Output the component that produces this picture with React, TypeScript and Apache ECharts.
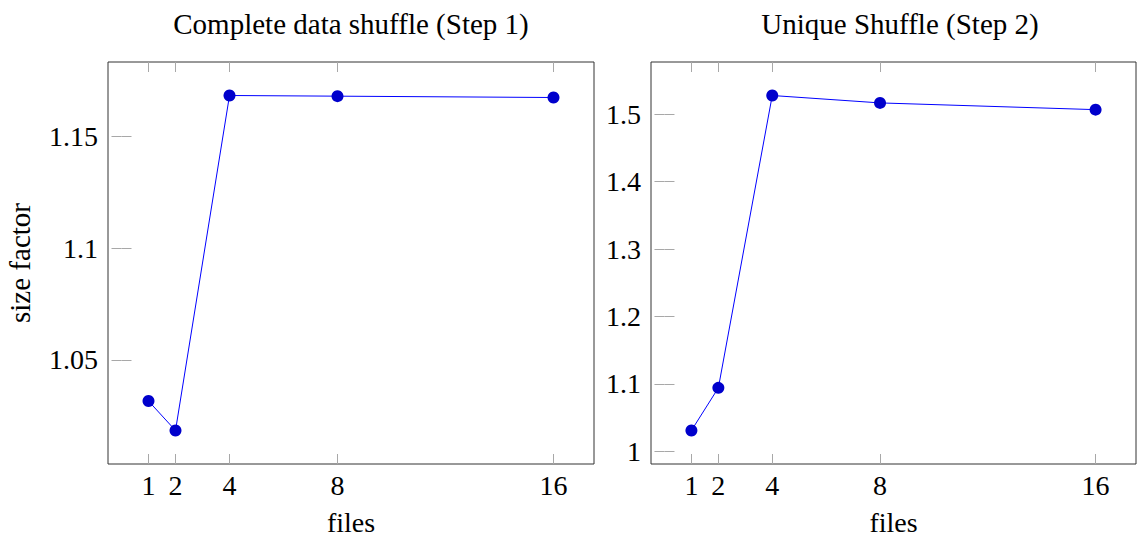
import React, { useEffect, useRef } from "react";
import * as echarts from "echarts";

const files = [1, 2, 4, 8, 16];
const step1SizeFactor = [1.0315, 1.0183, 1.1684, 1.1681, 1.1675];
const step2SizeFactor = [1.0307, 1.094, 1.528, 1.517, 1.507];
const xTicks = [1, 2, 4, 8, 16];
const step1YTicks = [1.05, 1.1, 1.15];
const step2YTicks = [1, 1.1, 1.2, 1.3, 1.4, 1.5];
const titles = ["Complete data shuffle (Step 1)", "Unique Shuffle (Step 2)"];

const FONT = "Liberation Serif";
const TICK_COLOR = "#a8a8a8";

function enlarge(vals: number[]) {
  const mn = Math.min(...vals);
  const mx = Math.max(...vals);
  const d = (mx - mn) * 0.1;
  return [mn - d, mx + d];
}

function fmt(v: number) {
  return String(parseFloat(v.toFixed(4)));
}

export default function App() {
  const ref = useRef<HTMLDivElement>(null);
  useEffect(() => {
    document.body.style.margin = "0";
    const chart = echarts.init(ref.current!, undefined, { renderer: "svg" });
    const [xMin, xMax] = enlarge(files);
    const yLims = [enlarge(step1SizeFactor), enlarge(step2SizeFactor)];
    const yTicks = [step1YTicks, step2YTicks];
    const seriesData = [step1SizeFactor, step2SizeFactor];
    const grids = [
      { left: 108, top: 62, width: 486, height: 404 },
      { left: 651, top: 62, width: 485, height: 404 },
    ];
    const xAxis: any[] = [];
    const yAxis: any[] = [];
    const series: any[] = [];
    grids.forEach((g, i) => {
      xAxis.push({
        type: "value",
        gridIndex: i,
        position: "bottom",
        min: xMin,
        max: xMax,
        name: "files",
        nameLocation: "middle",
        nameGap: 44,
        nameTextStyle: { fontFamily: FONT, fontSize: 28, color: "#000" },
        axisLine: { show: false },
        splitLine: { show: false },
        axisTick: {
          show: true,
          inside: true,
          length: 10,
          customValues: xTicks,
          lineStyle: { color: TICK_COLOR, width: 1 },
        },
        axisLabel: {
          show: true,
          customValues: xTicks,
          fontFamily: FONT,
          fontSize: 28,
          color: "#000",
          margin: 7,
          formatter: (v: number) => fmt(v),
        },
      });
      xAxis.push({
        type: "value",
        gridIndex: i,
        position: "top",
        min: xMin,
        max: xMax,
        axisLine: { show: false },
        splitLine: { show: false },
        axisTick: {
          show: true,
          inside: true,
          length: 10,
          customValues: xTicks,
          lineStyle: { color: TICK_COLOR, width: 1 },
        },
        axisLabel: { show: false },
      });
      yAxis.push({
        type: "value",
        gridIndex: i,
        position: "left",
        min: yLims[i][0],
        max: yLims[i][1],
        name: i === 0 ? "size factor" : "",
        nameLocation: "middle",
        nameGap: 74,
        nameTextStyle: { fontFamily: FONT, fontSize: 29, color: "#000" },
        axisLine: { show: false },
        splitLine: { show: false },
        axisTick: {
          show: true,
          inside: true,
          length: 10,
          customValues: yTicks[i],
          lineStyle: { color: TICK_COLOR, width: 1 },
        },
        axisLabel: {
          show: true,
          customValues: yTicks[i],
          fontFamily: FONT,
          fontSize: 28,
          color: "#000",
          margin: 10,
          formatter: (v: number) => fmt(v),
        },
      });
      yAxis.push({
        type: "value",
        gridIndex: i,
        position: "right",
        min: yLims[i][0],
        max: yLims[i][1],
        axisLine: { show: false },
        splitLine: { show: false },
        axisTick: {
          show: true,
          inside: true,
          length: 10,
          customValues: yTicks[i],
          lineStyle: { color: TICK_COLOR, width: 1 },
        },
        axisLabel: { show: false },
      });
      series.push({
        type: "line",
        xAxisIndex: i * 2,
        yAxisIndex: i * 2,
        data: files.map((f, k) => [f, seriesData[i][k]]),
        symbol: "circle",
        symbolSize: 12,
        lineStyle: { color: "#0000ff", width: 1 },
        itemStyle: { color: "#0000cc" },
        z: 3,
      });
    });
    chart.setOption({
      animation: false,
      backgroundColor: "#fff",
      title: [
        {
          text: titles[0],
          left: 346,
          top: 4,
          textAlign: "center",
          textStyle: { fontFamily: FONT, fontSize: 29, fontWeight: "normal", color: "#000" },
        },
        {
          text: titles[1],
          left: 895,
          top: 4,
          textAlign: "center",
          textStyle: { fontFamily: FONT, fontSize: 29, fontWeight: "normal", color: "#000" },
        },
      ],
      grid: grids.map((g) => ({
        ...g,
        show: true,
        borderColor: "#333",
        borderWidth: 1,
        backgroundColor: "transparent",
      })),
      xAxis,
      yAxis,
      series,
    });
    return () => chart.dispose();
  }, []);
  return <div ref={ref} style={{ width: 1137, height: 541 }} />;
}
